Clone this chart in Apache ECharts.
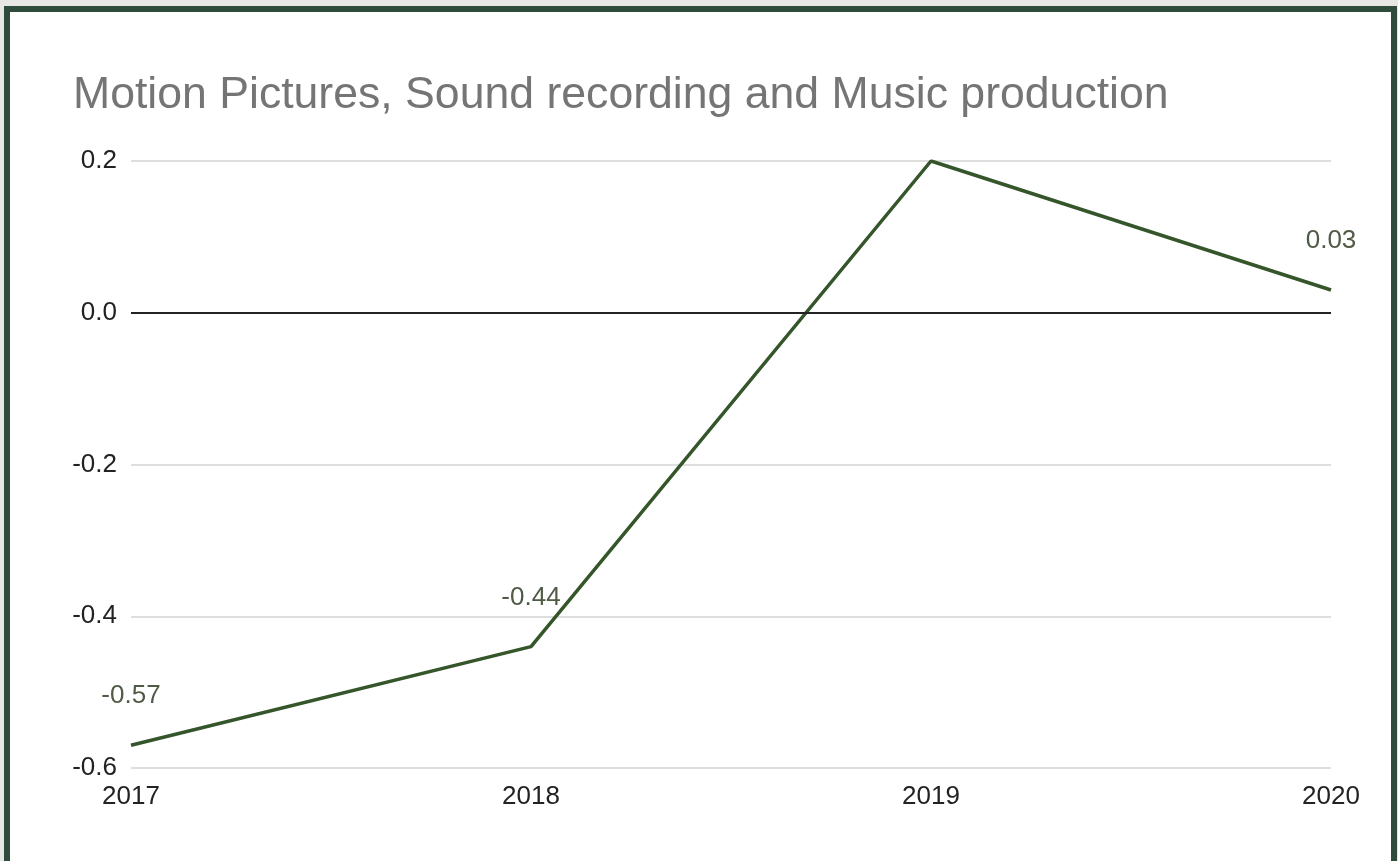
<!DOCTYPE html>
<html>
<head>
<meta charset="utf-8">
<script src="https://cdn.jsdelivr.net/npm/echarts@6/dist/echarts.min.js"></script>
<style>
  html, body { margin: 0; padding: 0; width: 1398px; height: 861px; overflow: hidden; background: #e7e8e6; }
  #frame { position: absolute; left: 4px; top: 6px; width: 1381px; height: 900px; border: 6px solid #2e4b3b; background: #ffffff; }
  #chart { position: absolute; left: 0; top: 0; width: 1398px; height: 861px; }
</style>
</head>
<body>
<div id="frame"></div>
<div id="chart"></div>
<script>
const titleText = 'Motion Pictures, Sound recording and Music production';
const categories = ['2017', '2018', '2019', '2020'];
const values = [-0.57, -0.44, 0.20, 0.03];
const showLabel = [true, true, false, true];
const yMin = -0.6, yMax = 0.2, yInterval = 0.2;

const chart = echarts.init(document.getElementById('chart'), null, { renderer: 'canvas' });
const font = '"Liberation Sans", Arial, sans-serif';

chart.setOption({
  backgroundColor: 'transparent',
  animation: false,
  title: {
    text: titleText,
    left: 73, top: 73, padding: 0,
    textStyle: { fontFamily: font, fontSize: 44.6, fontWeight: 'normal', color: '#757575' }
  },
  grid: { left: 131, right: 67, top: 161, bottom: 93 },
  xAxis: {
    type: 'category',
    data: categories,
    boundaryGap: false,
    axisLine: { show: false },
    axisTick: { show: false },
    axisLabel: { fontFamily: font, fontSize: 26, color: '#222222', margin: 16 }
  },
  yAxis: {
    type: 'value',
    min: yMin, max: yMax, interval: yInterval,
    axisLine: { show: false },
    axisTick: { show: false },
    axisLabel: { fontFamily: font, fontSize: 26, color: '#222222', margin: 14,
      formatter: v => v.toFixed(1) },
    splitLine: { lineStyle: { color: '#d3d3d3', width: 1.5 } }
  },
  series: [{
    type: 'line',
    data: values.map((v, i) => ({
      value: v,
      label: { show: showLabel[i] }
    })),
    showSymbol: true,
    symbol: 'circle',
    symbolSize: 0.01,
    lineStyle: { color: '#35552a', width: 3.5 },
    itemStyle: { color: 'rgba(0,0,0,0)' },
    label: {
      show: true, position: 'top', distance: 36,
      fontFamily: font, fontSize: 26, color: '#4f5b45',
      formatter: p => p.value.toFixed(2)
    },
    markLine: {
      silent: true, symbol: 'none', label: { show: false },
      lineStyle: { color: '#222222', width: 1.8, type: 'solid' },
      data: [{ yAxis: 0 }]
    }
  }]
});
</script>
</body>
</html>
